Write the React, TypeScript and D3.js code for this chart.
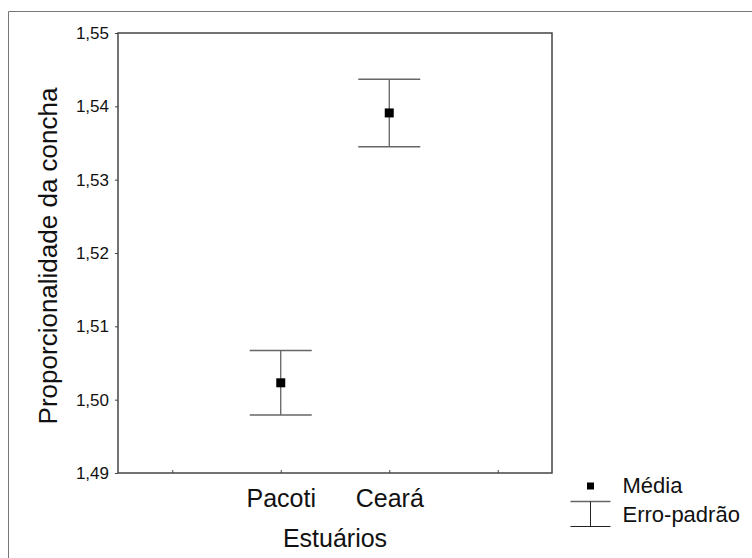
import { useRef, useEffect } from 'react';
import * as d3 from 'd3';

const categories = ['Pacoti', 'Ceará'];
const means = [1.5023, 1.5391];
const stdErrors = [0.0044, 0.0046];
const yTicks = [1.49, 1.5, 1.51, 1.52, 1.53, 1.54, 1.55];
const slots = ['_left', ...categories, '_right'];

function App() {
  const svgRef = useRef<SVGSVGElement | null>(null);
  const width = 752;
  const height = 558;

  useEffect(() => {
    const svg = d3.select(svgRef.current);
    svg.selectAll('*').remove();

    const font = "'Liberation Sans', Arial, sans-serif";
    const plot = { left: 118, right: 552, top: 33, bottom: 473 };

    const x = d3.scalePoint<string>().domain(slots).range([plot.left, plot.right]).padding(0.5);
    const y = d3.scaleLinear().domain([1.49, 1.55]).range([plot.bottom, plot.top]);

    svg.append('rect').attr('width', width).attr('height', height).attr('fill', '#fff');

    // outer frame (only left and top visible)
    svg
      .append('path')
      .attr('d', `M8.5,${height} V11.5 H${width}`)
      .attr('fill', 'none')
      .attr('stroke', '#777')
      .attr('stroke-width', 1);

    // plot frame
    svg
      .append('rect')
      .attr('x', plot.left)
      .attr('y', plot.top)
      .attr('width', plot.right - plot.left)
      .attr('height', plot.bottom - plot.top)
      .attr('fill', 'none')
      .attr('stroke', '#444')
      .attr('stroke-width', 1.5);

    // y axis
    const yAxis = svg
      .append('g')
      .attr('transform', `translate(${plot.left},0)`)
      .call(
        d3
          .axisLeft(y)
          .tickValues(yTicks)
          .tickSize(3)
          .tickPadding(6)
          .tickFormat((d) => d3.format('.2f')(d as number).replace('.', ','))
      );
    yAxis.select('.domain').remove();
    yAxis.selectAll('line').attr('stroke', '#444');
    yAxis
      .selectAll('text')
      .attr('font-family', font)
      .attr('font-size', 17)
      .attr('fill', '#111');

    // x axis
    const xAxis = svg
      .append('g')
      .attr('transform', `translate(0,${plot.bottom})`)
      .call(
        d3
          .axisBottom(x)
          .tickSizeInner(-3)
          .tickSizeOuter(0)
          .tickPadding(14)
          .tickFormat((d) => (d.startsWith('_') ? '' : d))
      );
    xAxis.select('.domain').remove();
    xAxis.selectAll('line').attr('stroke', '#444');
    xAxis
      .selectAll('text')
      .attr('font-family', font)
      .attr('font-size', 25)
      .attr('fill', '#111')
      .attr('dy', '0')
      .attr('y', 34);

    // axis titles
    svg
      .append('text')
      .attr('transform', `translate(57,${(plot.top + plot.bottom) / 2 + 3}) rotate(-90)`)
      .attr('text-anchor', 'middle')
      .attr('font-family', font)
      .attr('font-size', 26)
      .attr('fill', '#111')
      .text('Proporcionalidade da concha');

    svg
      .append('text')
      .attr('x', (plot.left + plot.right) / 2)
      .attr('y', 547)
      .attr('text-anchor', 'middle')
      .attr('font-family', font)
      .attr('font-size', 25)
      .attr('fill', '#111')
      .text('Estuários');

    // error bars
    const data = categories.map((c, i) => ({ c, m: means[i], se: stdErrors[i] }));
    const capW = 31;
    const bars = svg.append('g').selectAll('g').data(data).join('g');

    bars
      .append('line')
      .attr('x1', (d) => x(d.c)!)
      .attr('x2', (d) => x(d.c)!)
      .attr('y1', (d) => y(d.m + d.se))
      .attr('y2', (d) => y(d.m - d.se))
      .attr('stroke', '#555')
      .attr('stroke-width', 1.2);

    [1, -1].forEach((s) => {
      bars
        .append('line')
        .attr('x1', (d) => x(d.c)! - capW)
        .attr('x2', (d) => x(d.c)! + capW)
        .attr('y1', (d) => y(d.m + s * d.se))
        .attr('y2', (d) => y(d.m + s * d.se))
        .attr('stroke', '#666')
        .attr('stroke-width', 1.5);
    });

    bars
      .append('rect')
      .attr('x', (d) => x(d.c)! - 4.5)
      .attr('y', (d) => y(d.m) - 4.5)
      .attr('width', 9)
      .attr('height', 9)
      .attr('fill', '#000');

    // legend
    const lg = svg.append('g').attr('transform', 'translate(590.5,0)');
    lg.append('rect').attr('x', -3.5).attr('y', 482.5).attr('width', 7).attr('height', 7).attr('fill', '#000');
    lg.append('text')
      .attr('x', 32)
      .attr('y', 493)
      .attr('font-family', font)
      .attr('font-size', 22)
      .attr('fill', '#111')
      .text('Média');
    lg.append('line').attr('x1', -20).attr('x2', 20).attr('y1', 501.5).attr('y2', 501.5).attr('stroke', '#666').attr('stroke-width', 1.5);
    lg.append('line').attr('x1', 0).attr('x2', 0).attr('y1', 501.5).attr('y2', 526.5).attr('stroke', '#222').attr('stroke-width', 1);
    lg.append('line').attr('x1', -20).attr('x2', 20).attr('y1', 526.5).attr('y2', 526.5).attr('stroke', '#222').attr('stroke-width', 1.2);
    lg.append('text')
      .attr('x', 32)
      .attr('y', 522)
      .attr('font-family', font)
      .attr('font-size', 22)
      .attr('fill', '#111')
      .text('Erro-padrão');
  }, []);

  return (
    <svg
      ref={svgRef}
      width={width}
      height={height}
      style={{ position: 'absolute', left: 0, top: 0, display: 'block' }}
    ></svg>
  );
}

export default App;
